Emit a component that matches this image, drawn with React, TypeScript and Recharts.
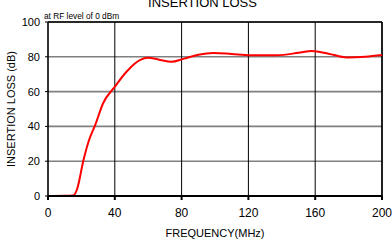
import { LineChart, Line, XAxis, YAxis, CartesianGrid, ReferenceLine } from "recharts";

// frequency (MHz) vs insertion loss (dB)
const freq = [0, 10, 15, 17.3, 21.3, 24.3, 28.3, 33, 40, 47, 55, 60, 66, 74, 81, 90, 99, 110, 121, 137, 150, 158, 168, 179, 190, 200];
const loss = [0, 0.1, 0.3, 3.6, 20.8, 31.3, 40.9, 53.3, 62.8, 71.4, 78.1, 79.4, 78.5, 77.1, 78.8, 81.2, 82.2, 81.6, 80.9, 80.9, 82.3, 83.4, 81.8, 79.6, 80.0, 81.0];

const xTicks = [0, 40, 80, 120, 160, 200];
const yTicks = [0, 20, 40, 60, 80, 100];

const data = freq.map((f, i) => ({ f, v: loss[i] }));

const FONT = "'Liberation Sans', Arial, sans-serif";

export default function App() {
  return (
    <div style={{ position: "absolute", left: 0, top: 0, width: 392, height: 240, background: "#fff", fontFamily: FONT }}>
      <div style={{ position: "absolute", left: 0, width: 405, top: -5, textAlign: "center", fontSize: 13, lineHeight: "15px", color: "#000" }}>
        INSERTION LOSS
      </div>
      <div style={{ position: "absolute", left: 44, top: 11, fontSize: 8.3, lineHeight: "10px", color: "#000" }}>
        at RF level of 0 dBm
      </div>
      <LineChart width={392} height={240} data={data} margin={{ top: 22, right: 10, left: 0, bottom: 0 }}>
        <CartesianGrid horizontal vertical={false} stroke="#808080" strokeWidth={1.6} />
        <CartesianGrid horizontal={false} vertical stroke="#000" strokeWidth={1} />
        <XAxis
          dataKey="f"
          type="number"
          domain={[0, 200]}
          ticks={xTicks}
          interval={0}
          stroke="#000"
          strokeWidth={2}
          tickSize={4}
          tickMargin={8}
          tick={{ fill: "#000", fontSize: 12, fontFamily: FONT }}
          height={44}
          label={{ value: "FREQUENCY(MHz)", position: "insideBottom", offset: 3, fill: "#000", fontSize: 11, fontFamily: FONT }}
        />
        <YAxis
          type="number"
          domain={[0, 100]}
          ticks={yTicks}
          interval={0}
          axisLine={false}
          stroke="#000"
          tickSize={3}
          tickMargin={5}
          width={48}
          tick={{ fill: "#000", fontSize: 11, fontFamily: FONT }}
          label={{ value: "INSERTION LOSS (dB)", angle: -90, position: "insideLeft", offset: 11, fill: "#000", fontSize: 11, fontFamily: FONT, style: { textAnchor: "middle" } }}
        />
        <ReferenceLine y={100} stroke="#000" strokeWidth={1.5} />
        <ReferenceLine x={0} stroke="#000" strokeWidth={1.2} />
        <ReferenceLine x={200} stroke="#000" strokeWidth={1.5} />
        <Line type="monotone" dataKey="v" stroke="#ff0000" strokeWidth={2} dot={false} isAnimationActive={false} />
      </LineChart>
    </div>
  );
}
